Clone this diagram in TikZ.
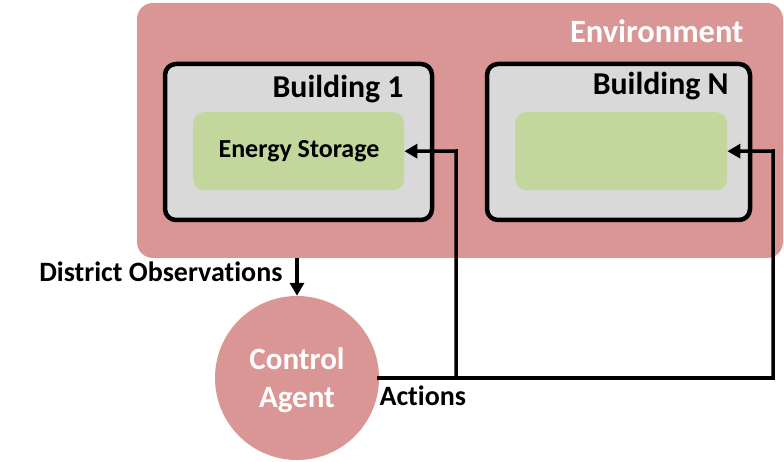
\documentclass[tikz,border=0pt]{standalone}
\usepackage{fontspec}
\setmainfont[Ligatures=NoCommon]{Carlito}
\usetikzlibrary{arrows.meta}
\definecolor{envpink}{HTML}{D99694}
\definecolor{bldgrey}{HTML}{D9D9D9}
\definecolor{storgreen}{HTML}{C3D69B}
\tikzset{
  envbox/.style={fill=envpink, draw=none, rounded corners=16pt},
  bldbox/.style={fill=bldgrey, draw=black, line width=4.5pt, rounded corners=11pt},
  storbox/.style={fill=storgreen, draw=none, rounded corners=11pt},
  agent/.style={circle, fill=envpink, draw=none},
  conn/.style={draw=black, line width=3.5pt},
  tip/.style={-{Triangle[length=13pt,width=14pt]}},
  envtxt/.style={font=\fontsize{32.5}{34}\selectfont\bfseries},
  bigtxt/.style={font=\fontsize{31.8}{34}\selectfont\bfseries},
  midtxt/.style={font=\fontsize{26}{28}\selectfont\bfseries},
  lbltxt/.style={font=\fontsize{28}{30}\selectfont\bfseries},
  agtxt/.style={font=\fontsize{31}{38}\selectfont\bfseries},
}
\begin{document}
\begin{tikzpicture}[x=1pt,y=-1pt]
\useasboundingbox (0,0) rectangle (784,462);
% environment
\path[envbox] (137,3) rectangle (783,258);
\node[envtxt, text=white, anchor=east] (envlbl) at (747,31) {Environment};
% buildings
\path[bldbox] (165,64) rectangle (432,220);
\path[bldbox] (487,64) rectangle (750,220);
\node[bigtxt, anchor=east] (b1lbl) at (407,89) {Building 1};
\node[bigtxt, anchor=east] (bnlbl) at (732,86) {Building N};
% storage boxes
\node[storbox, minimum width=211pt, minimum height=78pt, anchor=north west, inner sep=0pt] (s1) at (193,112) {};
\node[storbox, minimum width=212pt, minimum height=78pt, anchor=north west, inner sep=0pt] (sn) at (515,112) {};
\node[midtxt] (s1lbl) at (299,151) {Energy Storage};
% agent
\node[agent, minimum size=164pt, inner sep=0pt] (ag) at (297,378) {};
\node[agtxt, text=white, align=center] (aglbl) at (297,380) {Control\\Agent};
% coordinates
\coordinate (obs) at (297,258);
\coordinate (j1) at (456,378);
\coordinate (jn) at (773,378);
\coordinate (t1) at (456,151);
\coordinate (tn) at (773,151);
% connectors
\draw[conn, tip] (obs) -- (ag.north);
\draw[conn, line cap=rect] (ag.east) -- (jn);
\draw[conn, tip, line join=miter] (j1) -- (t1) -- (s1.east);
\draw[conn, tip, line join=miter] (jn) -- (tn) -- (sn.east);
% labels
\node[lbltxt, anchor=east] (obslbl) at (286,272) {District Observations};
\node[lbltxt, anchor=west] (actlbl) at (376,396) {Actions};
\end{tikzpicture}
\end{document}
